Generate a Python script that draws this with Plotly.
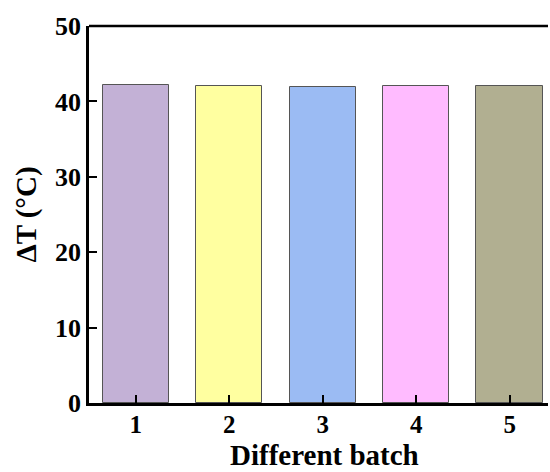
import plotly.graph_objects as go

batches = ["1", "2", "3", "4", "5"]
x_pos = [1, 2, 3, 4, 5]
delta_t = [42.17, 42.0, 41.86, 42.04, 42.08]
colors = ["#C3B1D6", "#FFFFA0", "#9BBBF3", "#FFBBFF", "#B1AF91"]
y_ticks = [0, 10, 20, 30, 40, 50]

FONT = "Liberation Serif"

fig = go.Figure()
fig.add_trace(go.Bar(
    x=x_pos, y=delta_t, width=0.71,
    marker=dict(color=colors, line=dict(color="#555555", width=1)),
    showlegend=False,
))

fig.update_layout(
    width=550, height=472,
    margin=dict(l=89, r=2, t=26, b=69),
    plot_bgcolor="white", paper_bgcolor="white",
    font=dict(family=FONT, color="black"),
    bargap=0,
)
fig.update_xaxes(
    range=[0.5, 5.41], tickvals=x_pos, ticktext=batches,
    ticks="inside", ticklen=8, tickwidth=2, tickcolor="black",
    showline=True, linewidth=2.5, linecolor="black", mirror=False,
    showgrid=False, zeroline=False, ticklabelstandoff=-3,
    tickfont=dict(family=FONT, size=25, color="black", weight="bold"),
)
fig.update_yaxes(
    range=[0, 50], tickvals=y_ticks,
    ticks="inside", ticklen=8, tickwidth=2, tickcolor="black",
    showline=True, linewidth=2.5, linecolor="black", mirror=False,
    showgrid=False, zeroline=False,
    tickfont=dict(family=FONT, size=26, color="black", weight="bold"),
    title=dict(text="ΔT (°C)", font=dict(family=FONT, size=29, color="black", weight="bold"), standoff=10),
)
# top frame line
fig.add_shape(type="line", xref="paper", yref="paper", x0=0, x1=1, y0=1, y1=1,
              line=dict(color="black", width=2.5))
fig.add_annotation(
    text="Different batch", xref="paper", yref="paper",
    x=(324 - 89) / (548 - 89), y=0, yshift=-52, xanchor="center", yanchor="middle",
    showarrow=False, font=dict(family=FONT, size=29, color="black", weight="bold"),
)
fig.write_html("out.html", config={"displayModeBar": False})
